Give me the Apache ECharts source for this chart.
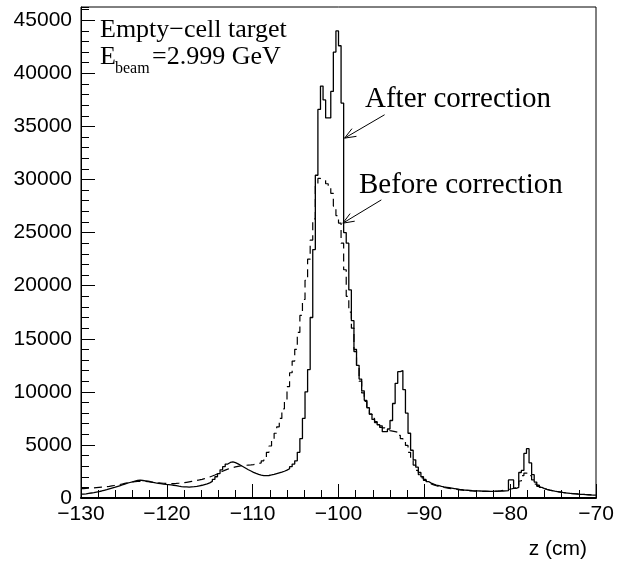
<!DOCTYPE html>
<html>
<head>
<meta charset="utf-8">
<script src="https://cdn.jsdelivr.net/npm/echarts@6/dist/echarts.min.js"></script>
<style>
html,body{margin:0;padding:0;background:#fff;}
#chart{width:623px;height:563px;}
</style>
</head>
<body>
<div id="chart"></div>
<script>
// Histogram binning (cm)
const binStart = -130;
const binWidth = 0.3;

// "After correction" counts per bin (solid)
const afterCounts = [
  360, 390, 430, 470, 510, 560, 610, 660, 720, 780,
  850, 920, 990, 1070, 1150, 1230, 1310, 1390, 1460, 1530,
  1600, 1660, 1680, 1650, 1620, 1580, 1530, 1470, 1420, 1390,
  1350, 1310, 1280, 1260, 1230, 1200, 1160, 1110, 1070, 1050,
  1040, 1030, 1050, 1070, 1100, 1150, 1200, 1270, 1340, 1430,
  1560, 1750, 2000, 2300, 2650, 2950, 3200, 3350, 3400, 3330,
  3220, 3080, 2940, 2800, 2660, 2540, 2420, 2320, 2230, 2160,
  2110, 2100, 2120, 2170, 2230, 2300, 2370, 2440, 2520, 2620,
  2760, 2950, 3200, 3500, 4300, 5600, 7500, 10000, 12100, 17000,
  23400, 30400, 36600, 38800, 37500, 35800, 35800, 38300, 42000, 44000,
  42600, 37200, 25000, 24000, 19600, 16700, 13800, 12500, 11200, 10100,
  9200, 8500, 7900, 7400, 7100, 6900, 6650, 6250, 6250, 6500,
  7300, 8900, 10800, 11900, 12000, 10200, 8000, 6100, 4500, 3600,
  2900, 2400, 2000, 1750, 1550, 1400, 1300, 1220, 1160, 1100,
  1050, 1010, 970, 930, 890, 850, 810, 780, 750, 730,
  710, 690, 680, 670, 660, 650, 640, 640, 630, 630,
  640, 640, 650, 660, 670, 690, 1700, 1700, 900, 1000,
  2400, 2600, 4200, 4650, 3300, 2200, 1500, 1200, 1000, 880,
  800, 740, 690, 640, 600, 560, 520, 490, 460, 430,
  410, 390, 370, 350, 335, 320, 305, 290, 280, 270
];

// "Before correction" counts per bin (dashed)
const beforeCounts = [
  880, 900, 920, 940, 960, 980, 1000, 1020, 1040, 1070,
  1100, 1140, 1180, 1220, 1270, 1320, 1370, 1420, 1470, 1510,
  1540, 1560, 1570, 1570, 1560, 1540, 1510, 1480, 1450, 1430,
  1410, 1390, 1380, 1370, 1360, 1360, 1370, 1390, 1410, 1440,
  1480, 1520, 1560, 1600, 1650, 1700, 1760, 1830, 1900, 1980,
  2070, 2170, 2280, 2400, 2520, 2630, 2720, 2800, 2870, 2930,
  2980, 3020, 3050, 3080, 3100, 3120, 3150, 3190, 3240, 3310,
  3500, 3800, 4300, 4900, 5500, 6100, 6700, 7500, 8400, 9300,
  10500, 11800, 12900, 14000, 15600, 17200, 18700, 20500, 22500, 24300,
  26300, 29500, 30100, 30000, 29900, 29600, 29300, 28700, 27500, 26600,
  25900, 24000, 21500, 19000, 17500, 16000, 14000, 12300, 11000, 9900,
  9100, 8400, 7900, 7500, 7200, 7000, 6800, 6600, 6450, 6350,
  6300, 6250, 6200, 5900, 5600, 5300, 4950, 4300, 3700, 3100,
  2600, 2200, 1900, 1650, 1470, 1330, 1230, 1150, 1090, 1040,
  990, 950, 910, 870, 830, 800, 770, 740, 720, 700,
  680, 660, 650, 640, 630, 620, 620, 610, 610, 620,
  630, 650, 680, 720, 760, 800, 850, 900, 1000, 1200,
  1600, 2100, 2350, 2300, 2100, 1700, 1300, 1100, 1000, 900,
  820, 750, 700, 650, 610, 570, 530, 500, 470, 440,
  420, 400, 380, 360, 345, 330, 315, 300, 290, 280
];

// Axis ranges / ticks
const xMin = -130, xMax = -70, xStep = 10;
const yMin = 0, yMax = 46250, yStep = 5000, yMinorStep = 1000;

// Annotation texts
const titleLine1 = "Empty\u2212cell target";
const beamLabel = "E";
const beamSub = "beam";
const beamValue = "=2.999 GeV";
const afterLabel = "After correction";
const beforeLabel = "Before correction";
const xTitle = "z (cm)";

// Arrow annotations in data coordinates: [fromX, fromY, toX, toY]
const arrowAfter = [-94.63, 36100, -99.29, 33900];
const arrowBefore = [-95.01, 28080, -99.49, 25890];

function histPoints(counts) {
  const pts = [];
  for (let i = 0; i < counts.length; i++) {
    pts.push([binStart + i * binWidth, counts[i]]);
  }
  pts.push([binStart + counts.length * binWidth, counts[counts.length - 1]]);
  return pts;
}

const chart = echarts.init(document.getElementById('chart'), null, {renderer: 'canvas'});
const sansFont = 'Liberation Sans, Arial, Helvetica, sans-serif';
const serifFont = 'Liberation Serif, Times New Roman, serif';

const option = {
  animation: false,
  backgroundColor: '#fff',
  grid: {left: 81, right: 27, top: 7, bottom: 65, show: true, borderColor: '#000', borderWidth: 1, containLabel: false},
  xAxis: {
    type: 'value', min: xMin, max: xMax, interval: xStep,
    axisLine: {show: true, onZero: false, lineStyle: {color: '#000', width: 2}},
    axisTick: {show: true, inside: true, length: 14, lineStyle: {color: '#000', width: 1}},
    minorTick: {show: true, splitNumber: 5, length: 8, lineStyle: {color: '#000', width: 1}},
    splitLine: {show: false},
    axisLabel: {color: '#000', fontSize: 21, fontFamily: sansFont, margin: 6,
      formatter: v => String(v).replace('-', '\u2212')}
  },
  yAxis: [{
    type: 'value', min: yMin, max: yMax, interval: yStep,
    axisLine: {show: true, lineStyle: {color: '#000', width: 1}},
    axisTick: {show: true, inside: true, length: 14, lineStyle: {color: '#000', width: 1}},
    splitLine: {show: false},
    axisLabel: {color: '#000', fontSize: 21, fontFamily: sansFont, margin: 9, showMaxLabel: false,
      formatter: v => (v % yStep === 0 ? String(v) : '')}
  }, {
    type: 'value', min: yMin, max: yMax, interval: yMinorStep, position: 'left',
    axisLine: {show: false},
    axisTick: {show: true, inside: true, length: 8, lineStyle: {color: '#000', width: 1}},
    splitLine: {show: false},
    axisLabel: {show: false}
  }],
  series: [
    {
      type: 'line', step: 'end', data: histPoints(beforeCounts), symbol: 'none',
      lineStyle: {color: '#000', width: 1.2, type: [8, 5]}, z: 3
    },
    {
      type: 'line', step: 'end', data: histPoints(afterCounts), symbol: 'none',
      lineStyle: {color: '#000', width: 1.3}, z: 4
    },
    {
      type: 'custom', coordinateSystem: 'cartesian2d', z: 5,
      data: [arrowAfter, arrowBefore],
      encode: {x: [0, 2], y: [1, 3]},
      renderItem: function (params, api) {
        const p0 = api.coord([api.value(0), api.value(1)]);
        const p1 = api.coord([api.value(2), api.value(3)]);
        const ang = Math.atan2(p1[1] - p0[1], p1[0] - p0[0]);
        const L = 12, a = 0.38;
        const h1 = [p1[0] - L * Math.cos(ang - a), p1[1] - L * Math.sin(ang - a)];
        const h2 = [p1[0] - L * Math.cos(ang + a), p1[1] - L * Math.sin(ang + a)];
        return {
          type: 'group', children: [
            {type: 'line', shape: {x1: p0[0], y1: p0[1], x2: p1[0], y2: p1[1]}, style: {stroke: '#000', lineWidth: 1}},
            {type: 'polyline', shape: {points: [h1, p1, h2]}, style: {stroke: '#000', fill: null, lineWidth: 1}}
          ]
        };
      }
    }
  ],
  graphic: [
    {type: 'text', left: 100, top: 17, style: {text: titleLine1, font: '26px ' + serifFont, fill: '#000'}},
    {type: 'text', left: 100, top: 44, style: {text: beamLabel, font: '26px ' + serifFont, fill: '#000'}},
    {type: 'text', left: 115, top: 61, style: {text: beamSub, font: '16px ' + serifFont, fill: '#000'}},
    {type: 'text', left: 152, top: 44, style: {text: beamValue, font: '26px ' + serifFont, fill: '#000'}},
    {type: 'text', left: 365, top: 85, style: {text: afterLabel, font: '29px ' + serifFont, fill: '#000'}},
    {type: 'text', left: 359, top: 171, style: {text: beforeLabel, font: '29px ' + serifFont, fill: '#000'}},
    {type: 'text', right: 36, top: 539, style: {text: xTitle, font: '21px ' + sansFont, fill: '#000'}}
  ]
};
chart.setOption(option);
</script>
</body>
</html>
